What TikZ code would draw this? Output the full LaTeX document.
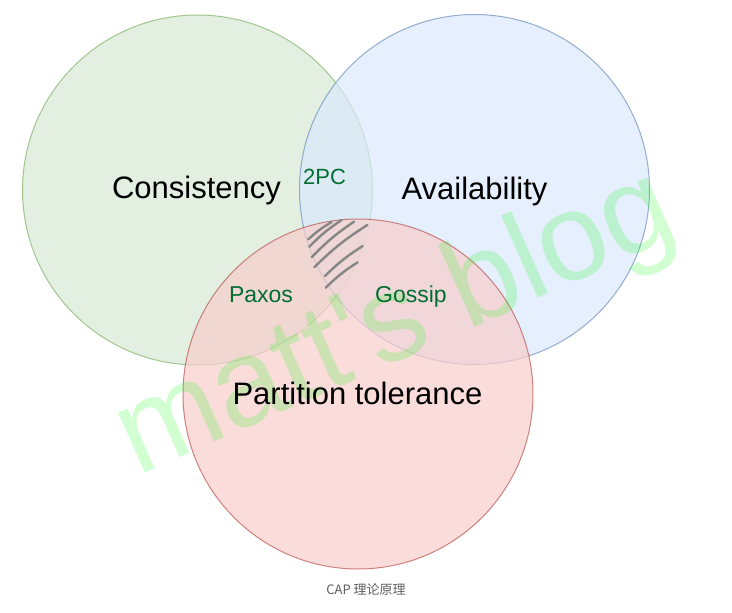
\documentclass[tikz,border=0pt]{standalone}
\usepackage{fontspec}
\setmainfont{Liberation Sans}
\newfontfamily\wmfont[Ligatures=TeXOff]{Liberation Sans}
\newfontfamily\cjk{Noto Sans CJK SC}
\definecolor{cfill}{HTML}{D5E8D4}
\definecolor{cline}{HTML}{82B366}
\definecolor{afill}{HTML}{DAE8FC}
\definecolor{aline}{HTML}{6C8EBF}
\definecolor{pfill}{HTML}{F8CECC}
\definecolor{pline}{HTML}{B85450}
\definecolor{lblgreen}{RGB}{0,110,50}
\definecolor{wmgreen}{RGB}{0,255,0}
\definecolor{capgray}{RGB}{95,95,95}
\tikzset{
  setcircle/.style={circle, inner sep=0pt, minimum size=350pt, line width=1pt,
    fill opacity=0.7, draw opacity=0.7},
  setlabel/.style={anchor=base, inner sep=0pt, font=\fontsize{31}{31}\selectfont, text=black},
  alg/.style={anchor=base, font=\fontsize{23}{23}\selectfont, text=lblgreen, inner sep=0pt},
  hatchline/.style={draw=gray!95, line width=2.4pt, line cap=round},
}
\begin{document}
\begin{tikzpicture}[x=1pt,y=-1pt]
\useasboundingbox (0,0) rectangle (732,613);
\node[setcircle, fill=cfill, draw=cline] (C) at (197.5,190) {};
\node[setcircle, fill=afill, draw=aline] (A) at (474.5,189.5) {};
\node[setcircle, fill=pfill, draw=pline] (P) at (358,394) {};
% hatching
\draw[hatchline] (308.3,239.3) to[bend left=6] (331.7,222);
\draw[hatchline] (309.3,246.7) to[bend left=6] (341.7,220);
\draw[hatchline] (311.7,257.3) to[bend left=6] (354,221.7);
\draw[hatchline] (314.3,267.3) to[bend left=6] (367.3,225);
\draw[hatchline] (325,276) to[bend left=6] (362.7,246);
\draw[hatchline] (325.7,287.7) to[bend left=6] (357.7,262.3);
% watermark
\node[anchor=base west, rotate=24, text=wmgreen, text opacity=0.18,
  font=\wmfont\fontsize{124}{124}\selectfont, inner sep=0pt] (wm) at (137,477) {matt's blog};
% labels
\node[setlabel] (lC) at (196.5,198) {Consistency};
\node[setlabel] (lA) at (474.5,199) {Availability};
\node[setlabel] (lP) at (357.5,404) {Partition tolerance};
\node[alg, font=\fontsize{22}{22}\selectfont] (l2pc) at (324.5,184) {2PC};
\node[alg] (lpaxos) at (261,302) {Paxos};
\node[alg] (lgossip) at (411,302) {Gossip};
\node[font=\cjk\fontsize{13}{13}\selectfont, text=capgray, inner sep=0pt] (cap) at (366,590) {CAP 理论原理};
\end{tikzpicture}
\end{document}
